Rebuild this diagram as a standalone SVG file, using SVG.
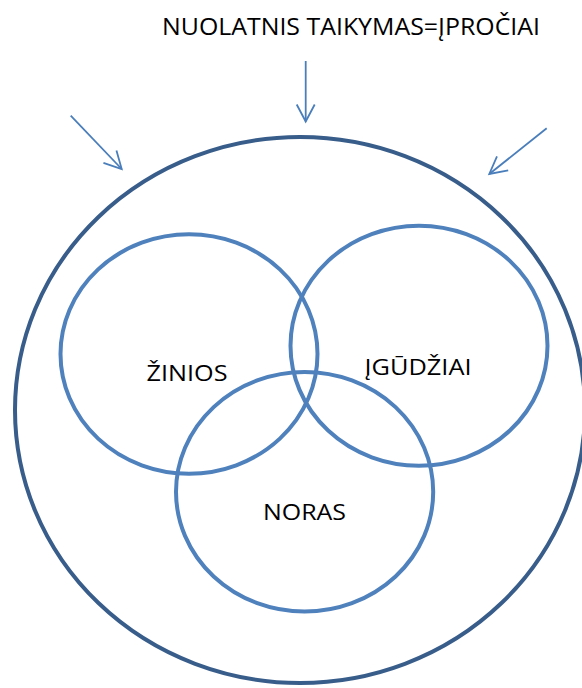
<svg xmlns="http://www.w3.org/2000/svg" width="582" height="688" viewBox="0 0 582 688">
<style>
.outer{fill:none;stroke:#385D8A;stroke-width:4}
.set{fill:none;stroke:#4F81BD;stroke-width:4}
.lbl{font-family:"Open Sans","Liberation Sans",Arial,sans-serif;fill:#000}
.arr{fill:none;stroke:#4A7EBB;stroke-width:1.8}
</style>
<defs>
<marker id="ah" markerUnits="userSpaceOnUse" markerWidth="24" markerHeight="24" viewBox="-20 -12 24 24" refX="0" refY="0" orient="auto">
<path d="M-17,-9 L0,0 L-17,9" fill="none" stroke="#4A7EBB" stroke-width="1.8"/>
</marker>
</defs>
<rect width="582" height="688" fill="#fff"/>
<g id="title">
<text class="lbl" x="162" y="35" font-size="23" textLength="378" lengthAdjust="spacingAndGlyphs">NUOLATNIS TAIKYMAS=ĮPROČIAI</text>
</g>
<g id="connectors">
<line class="arr" x1="305.7" y1="61" x2="305.7" y2="121.5" marker-end="url(#ah)"/>
<line class="arr" x1="70.7" y1="115.7" x2="121.7" y2="169" marker-end="url(#ah)"/>
<line class="arr" x1="546.7" y1="128.3" x2="489.3" y2="174" marker-end="url(#ah)"/>
</g>
<g id="outer">
<ellipse class="outer" cx="300" cy="410" rx="285" ry="273"/>
</g>
<g id="ziniios">
<ellipse class="set" cx="189" cy="354" rx="128.5" ry="119.7"/>
<text class="lbl" x="146.5" y="381" font-size="22.5" textLength="81" lengthAdjust="spacingAndGlyphs">ŽINIOS</text>
</g>
<g id="igudziai">
<ellipse class="set" cx="419" cy="345.7" rx="128.5" ry="120"/>
<text class="lbl" x="364.5" y="375" font-size="22.5" textLength="107" lengthAdjust="spacingAndGlyphs">ĮGŪDŽIAI</text>
</g>
<g id="noras">
<ellipse class="set" cx="304.6" cy="491.8" rx="128.6" ry="119.8"/>
<text class="lbl" x="263" y="519.5" font-size="22.5" textLength="83" lengthAdjust="spacingAndGlyphs">NORAS</text>
</g>
</svg>
